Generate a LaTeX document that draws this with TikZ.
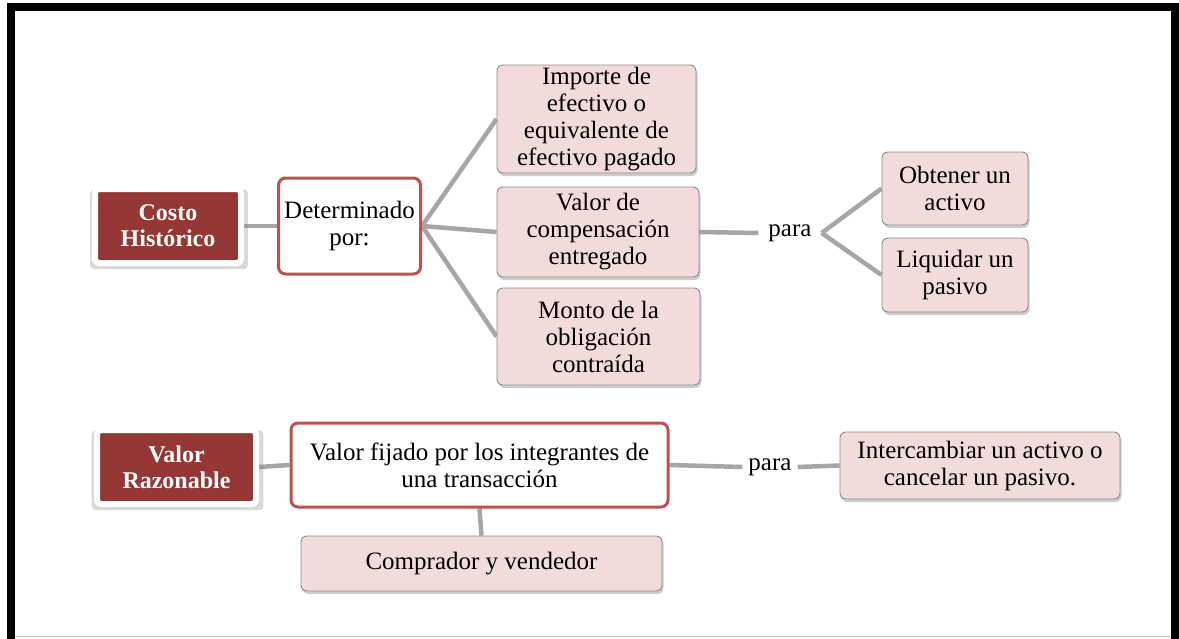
\documentclass[tikz,border=0pt]{standalone}
\usepackage{fontspec}
\setmainfont{Liberation Serif}
\usepackage{xcolor}
\usepackage{tikz}
\usetikzlibrary{shadows,backgrounds}
\definecolor{darkred}{HTML}{953735}
\definecolor{redline}{HTML}{C0504D}
\definecolor{pinkfill}{HTML}{F2DCDB}
\definecolor{pinkline}{HTML}{8C8C8C}
\definecolor{connline}{HTML}{A6A6A6}
\tikzset{
  txt/.style={font=\fontsize{25}{27}\selectfont, align=center, inner sep=0pt},
  dark/.style={txt, font=\fontsize{24}{26}\selectfont\bfseries, text=white, fill=darkred, draw=white, line width=6pt, rounded corners=4pt, drop shadow={shadow xshift=1pt, shadow yshift=-3pt, shadow scale=1.08, opacity=.3}},
  redbox/.style={txt, fill=white, draw=redline, line width=3pt, rounded corners=7pt},
  pink/.style={txt, fill=pinkfill, draw=pinkline, line width=0.9pt, rounded corners=6pt, drop shadow={shadow xshift=1.5pt, shadow yshift=-3pt, opacity=.4}},
  conn/.style={draw=connline, line width=4.5pt},
  para/.style={txt, inner xsep=10pt},
}

\begin{document}
\begin{tikzpicture}[x=1pt,y=-1pt]
  \useasboundingbox (0,0) rectangle (1179,638);

  % frame
  \draw[line width=8pt] (11,640) -- (11,7) -- (1175,7) -- (1175,640);
  \draw[gray!50, line width=1pt] (15,636) -- (1171,636);

  % costo historico
  \node[dark, minimum width=146pt, minimum height=74pt] (CH) at (168,226) {Costo\\Histórico};
  \node[redbox, minimum width=142pt, minimum height=96pt] (DP) at (349.5,226) {Determinado\\por:};
  \node[pink, minimum width=199pt, minimum height=108pt] (IE) at (596.5,119) {Importe de\\efectivo o\\equivalente de\\efectivo pagado};
  \node[pink, minimum width=202pt, minimum height=90pt] (VC) at (598,232) {Valor de\\compensación\\entregado};
  \node[pink, minimum width=203pt, minimum height=97pt] (MO) at (598.5,336.5) {Monto de la\\obligación\\contraída};
  \node[para] (P1) at (790,233) {para};
  \node[pink, minimum width=146pt, minimum height=73pt] (OA) at (955,188.5) {Obtener un\\activo};
  \node[pink, minimum width=146pt, minimum height=74pt] (LP) at (955,275) {Liquidar un\\pasivo};

  % valor razonable
  \node[dark, minimum width=159pt, minimum height=74pt] (VR) at (176.5,467) {Valor\\Razonable};
  \node[redbox, minimum width=377pt, minimum height=84pt] (VF) at (479.5,465) {Valor fijado por los integrantes de\\una transacción};
  \node[pink, minimum width=361pt, minimum height=55pt] (CV) at (481.5,563.5) {Comprador y vendedor};
  \node[para, inner xsep=6pt] (P2) at (770,467) {para};
  \node[pink, minimum width=280pt, minimum height=67pt] (IA) at (980,465.5) {Intercambiar un activo o\\cancelar un pasivo.};

  \begin{scope}[on background layer]
    \draw[conn] (CH) -- (DP);
    \draw[conn] (DP.east) -- (IE.west);
    \draw[conn] (DP.east) -- (VC.west);
    \draw[conn] (DP.east) -- (MO.west);
    \draw[conn] (VC.east) -- (P1.west);
    \draw[conn] (P1.east) -- (OA.west);
    \draw[conn] (P1.east) -- (LP.west);
    \draw[conn] (VR.east) -- (VF.west);
    \draw[conn] (VF.south) -- (CV.north);
    \draw[conn] (VF.east) -- (P2.west);
    \draw[conn] (P2.east) -- (IA.west);
  \end{scope}
\end{tikzpicture}
\end{document}
